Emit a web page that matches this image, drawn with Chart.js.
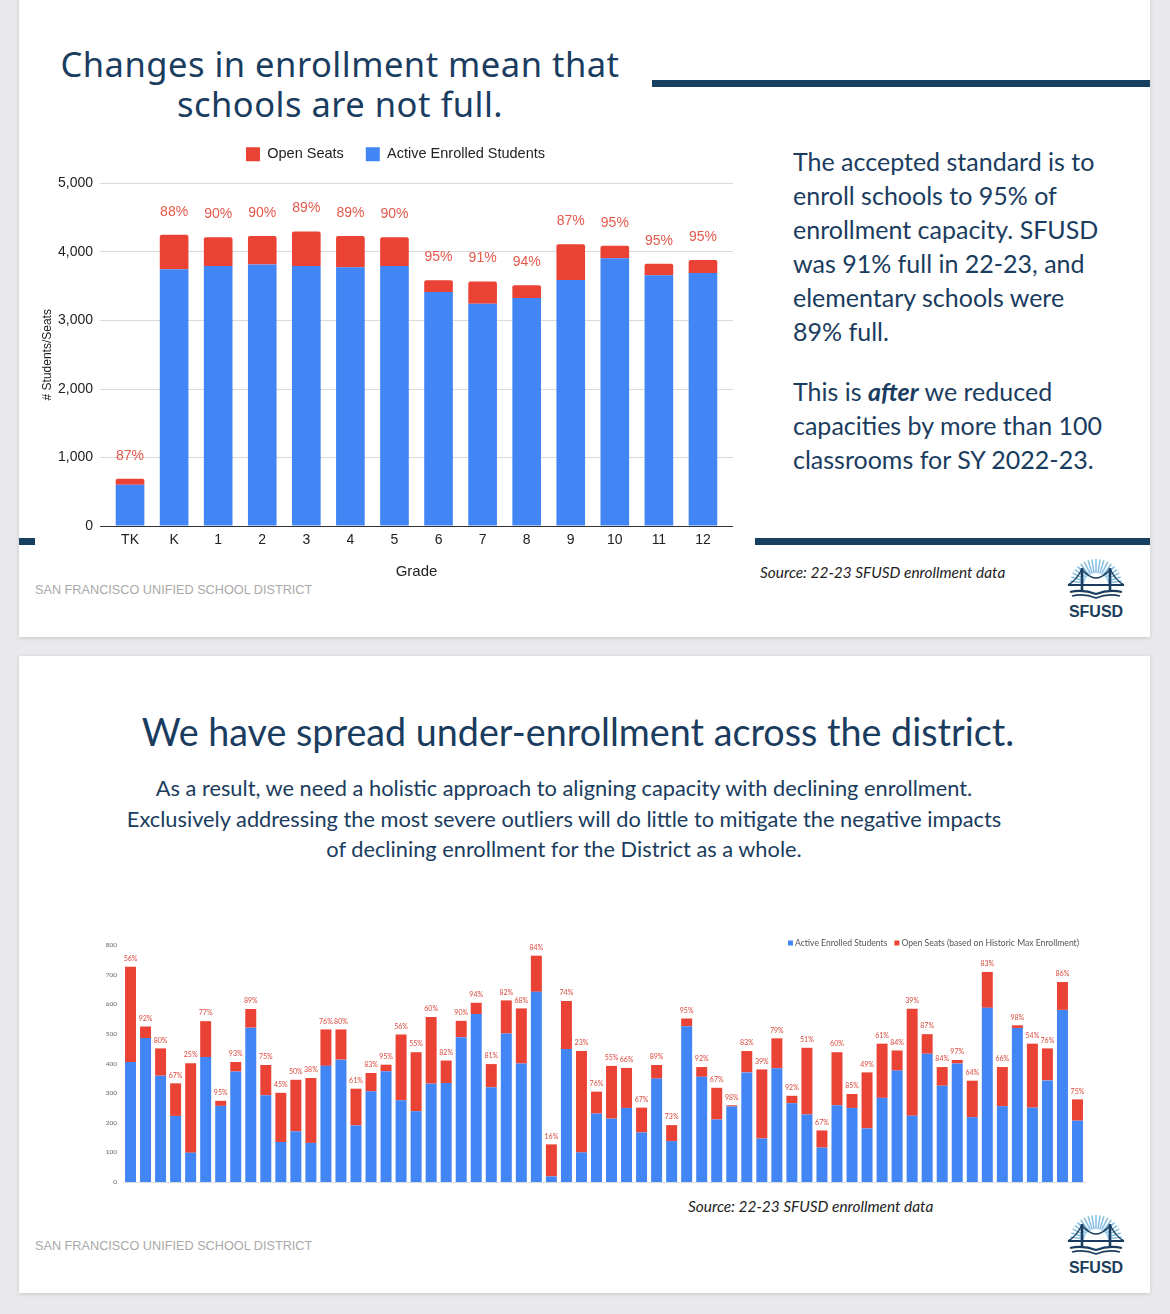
<!DOCTYPE html>
<html>
<head>
<meta charset="utf-8">
<script src="https://cdn.jsdelivr.net/npm/chart.js@4.4.1/dist/chart.umd.min.js"></script>
<style>
html, body { margin: 0; padding: 0; }
body { width: 1170px; height: 1314px; background: #e9e9ec; position: relative; overflow: hidden; font-family: Lato, sans-serif; color: #1a3c5e; }
.slide { position: absolute; left: 19px; width: 1131px; background: #fff; box-shadow: 0 1px 4px rgba(0,0,0,0.14); }
.abs { position: absolute; white-space: nowrap; }
.bar { position: absolute; background: #173f5f; }
.district { font-family: "Liberation Sans", Arial, sans-serif; font-size: 12.7px; color: #a9a9a9; line-height: 16px; }
.source { font-style: italic; font-size: 15.4px; color: #222; line-height: 20px; }
.side { font-size: 25px; line-height: 34px; left: 793px; }
</style>
</head>
<body>
<div class="slide" style="top:-3px;height:640px"></div>
<div class="slide" style="top:656px;height:637px"></div>

<!-- slide 1 -->
<div class="abs" style="left:40px;top:44px;width:600px;text-align:center;font-family:'Noto Sans',sans-serif;font-size:34.5px;line-height:40px;letter-spacing:0.5px">Changes in enrollment mean that<br>schools are not full.</div>
<div class="bar" style="left:652px;top:80px;width:498px;height:7px"></div>
<div class="bar" style="left:19px;top:538px;width:16px;height:7px"></div>
<div class="bar" style="left:755px;top:538px;width:395px;height:7px"></div>

<div class="abs side" style="top:144px">The accepted standard is to<br>enroll schools to 95% of<br>enrollment capacity. SFUSD<br>was 91% full in 22-23, and<br>elementary schools were<br>89% full.</div>
<div class="abs side" style="top:374px">This is <b><i>after</i></b> we reduced<br>capacities by more than 100<br>classrooms for SY 2022-23.</div>

<div class="abs source" style="left:760px;top:562px">Source: 22-23 SFUSD enrollment data</div>
<div class="abs district" style="left:35px;top:582px">SAN FRANCISCO UNIFIED SCHOOL DISTRICT</div>
<svg class="abs logo" style="left:1060px;top:555px" width="72" height="68"></svg>

<canvas id="gradeChart" class="abs" style="left:20px;top:125px" width="752" height="471"></canvas>

<!-- slide 2 -->
<div class="abs" style="left:0;top:708px;width:1156px;text-align:center;font-size:37.7px;line-height:48px">We have spread under-enrollment across the district.</div>
<div class="abs" style="left:0;top:773px;width:1128px;text-align:center;font-size:21.8px;line-height:30.5px">As a result, we need a holistic approach to aligning capacity with declining enrollment.<br>Exclusively addressing the most severe outliers will do little to mitigate the negative impacts<br>of declining enrollment for the District as a whole.</div>

<canvas id="schoolChart" class="abs" style="left:95px;top:925px" width="1000" height="270"></canvas>

<div class="abs source" style="left:688px;top:1196px">Source: 22-23 SFUSD enrollment data</div>
<div class="abs district" style="left:35px;top:1238px">SAN FRANCISCO UNIFIED SCHOOL DISTRICT</div>
<svg class="abs logo" style="left:1060px;top:1211px" width="72" height="68"></svg>

<script>
// slide 1: enrollment by grade
var grades = ['TK', 'K', '1', '2', '3', '4', '5', '6', '7', '8', '9', '10', '11', '12'];
var gradeEnrolled = [602, 3748, 3796, 3816, 3796, 3777, 3796, 3417, 3243, 3330, 3592, 3908, 3660, 3694];
var gradeOpen = [87, 504, 418, 417, 505, 456, 418, 170, 325, 185, 520, 184, 170, 189];
var gradePct = ['87%', '88%', '90%', '90%', '89%', '89%', '90%', '95%', '91%', '94%', '87%', '95%', '95%', '95%'];

// slide 2: enrollment by school
var schoolEnrolled = [405, 486, 359, 223, 99, 422, 257, 373, 521, 293, 135, 171, 132, 392, 413, 191,
    306, 374, 276, 239, 332, 334, 489, 567, 320, 501, 400, 642, 19, 449, 100, 231,
    214, 250, 167, 349, 138, 526, 355, 211, 255, 370, 147, 384, 266, 228, 116, 259,
    250, 181, 284, 376, 224, 433, 325, 400, 219, 588, 256, 520, 251, 343, 581, 207];
var schoolOpen = [322, 39, 92, 110, 302, 121, 17, 32, 63, 102, 166, 174, 219, 123, 102, 124,
    62, 22, 222, 199, 225, 76, 55, 38, 78, 112, 186, 122, 108, 162, 342, 74,
    178, 135, 84, 46, 54, 26, 33, 107, 4, 72, 233, 101, 25, 225, 58, 179,
    47, 189, 183, 68, 361, 66, 63, 12, 123, 121, 132, 9, 216, 108, 94, 72];
var schoolPct = ['56%', '92%', '80%', '67%', '25%', '77%', '95%', '93%', '89%', '75%', '45%', '50%', '38%', '76%', '80%', '61%',
    '83%', '95%', '56%', '55%', '60%', '82%', '90%', '94%', '81%', '82%', '68%', '84%', '16%', '74%', '23%', '76%',
    '55%', '66%', '67%', '89%', '73%', '95%', '92%', '67%', '98%', '83%', '39%', '79%', '92%', '51%', '67%', '60%',
    '85%', '49%', '61%', '84%', '39%', '87%', '84%', '97%', '64%', '83%', '66%', '98%', '54%', '76%', '86%', '75%'];
var schools = schoolEnrolled.map(function (v, i) { return 'School ' + (i + 1); });

var BLUE = '#4285f4';
var RED = '#ea4335';
Chart.defaults.font.family = '"Liberation Sans", Arial, sans-serif';
Chart.defaults.color = '#222';

// percent label above each stacked column
function pctLabels(labels, font, color, offset) {
    return {
        id: 'pctLabels',
        afterDatasetsDraw: function (chart) {
            var ctx = chart.ctx;
            var metas = chart.getSortedVisibleDatasetMetas();
            ctx.save();
            ctx.font = font;
            ctx.fillStyle = color;
            ctx.textAlign = 'center';
            ctx.textBaseline = 'middle';
            labels.forEach(function (txt, i) {
                var top = Math.min.apply(null, metas.map(function (m) { return m.data[i].y; }));
                ctx.fillText(txt, metas[0].data[i].x, top - offset);
            });
            ctx.restore();
        }
    };
}

// small legend in the top right corner of the plot (sheets style)
var cornerLegend = {
    id: 'cornerLegend',
    afterDraw: function (chart) {
        var ctx = chart.ctx, area = chart.chartArea;
        ctx.save();
        ctx.font = '8.6px Lato';
        ctx.textBaseline = 'middle';
        var x = area.right - 6, y = area.top - 2;
        chart.data.datasets.slice().reverse().forEach(function (ds) {
            x -= ctx.measureText(ds.label).width;
            ctx.fillStyle = '#555';
            ctx.fillText(ds.label, x, y);
            x -= 7;
            ctx.fillStyle = ds.backgroundColor;
            ctx.fillRect(x, y - 2.5, 5, 5);
            x -= 7;
        });
        ctx.restore();
    }
};

var gridColor = function (c) { return c.tick && c.tick.value === 0 ? '#333' : '#d9d9d9'; };

new Chart(document.getElementById('gradeChart'), {
    type: 'bar',
    data: {
        labels: grades,
        datasets: [{
            label: 'Active Enrolled Students',
            data: gradeEnrolled,
            backgroundColor: BLUE,
            borderWidth: 0
        }, {
            label: 'Open Seats',
            data: gradeOpen,
            backgroundColor: RED,
            borderWidth: 0,
            borderRadius: { topLeft: 2, topRight: 2 }
        }]
    },
    options: {
        responsive: false,
        animation: false,
        layout: { padding: { left: 38, right: 39, top: 0, bottom: 11 } },
        datasets: { bar: { barPercentage: 0.65, categoryPercentage: 1 } },
        plugins: {
            tooltip: { enabled: false },
            legend: {
                reverse: true,
                labels: { boxWidth: 14, boxHeight: 14, padding: 22, color: '#222', font: { size: 14.5 } }
            },
            // empty spacer box between legend and plot
            subtitle: { display: true, text: '', weight: 500, padding: 0, font: { size: 10 } }
        },
        scales: {
            x: {
                stacked: true,
                grid: { display: false, drawTicks: false },
                border: { display: false },
                ticks: { padding: 6, color: '#222', font: { size: 14 } },
                title: { display: true, text: 'Grade', color: '#222', font: { size: 15 } },
                afterFit: function (s) { s.height = 59; }
            },
            y: {
                stacked: true,
                min: 0,
                max: 5000,
                ticks: { stepSize: 1000, padding: 7, color: '#222', font: { size: 14 } },
                grid: { color: gridColor, drawTicks: true, tickLength: 8 },
                border: { display: false },
                title: { display: true, text: '# Students/Seats', color: '#222', font: { size: 12 }, padding: { top: -18, bottom: 4 } },
                afterFit: function (s) { s.width = 50; }
            },
            y2: {
                position: 'right',
                min: 0,
                max: 5000,
                ticks: { stepSize: 1000, display: false },
                grid: { color: gridColor, drawTicks: true, tickLength: 8 },
                border: { display: false },
                afterFit: function (s) { s.width = 8; }
            }
        }
    },
    plugins: [pctLabels(gradePct, '14px "Liberation Sans", Arial, sans-serif', '#e4594b', 23)]
});

new Chart(document.getElementById('schoolChart'), {
    type: 'bar',
    data: {
        labels: schools,
        datasets: [{
            label: 'Active Enrolled Students',
            data: schoolEnrolled,
            backgroundColor: BLUE,
            borderWidth: 0
        }, {
            label: 'Open Seats (based on Historic Max Enrollment)',
            data: schoolOpen,
            backgroundColor: RED,
            borderWidth: 0
        }]
    },
    options: {
        responsive: false,
        animation: false,
        layout: { padding: { left: 0, right: 10, top: 20, bottom: 13 } },
        datasets: { bar: { barPercentage: 0.73, categoryPercentage: 1 } },
        plugins: {
            tooltip: { enabled: false },
            legend: { display: false }
        },
        scales: {
            x: {
                stacked: true,
                grid: { display: false, drawTicks: false },
                border: { display: true, color: '#dcdcdc' },
                ticks: { display: false },
                afterFit: function (s) { s.height = 0; }
            },
            y: {
                stacked: true,
                min: 0,
                max: 800,
                ticks: { stepSize: 100, padding: 6, color: '#666', font: { family: 'Lato', size: 6.5 } },
                grid: { display: false, drawTicks: false },
                border: { display: false },
                afterFit: function (s) { s.width = 28; }
            }
        }
    },
    plugins: [pctLabels(schoolPct, '7px Lato', '#d9493e', 8), cornerLegend]
});

// SFUSD logo: sun rays, bridge, open book
document.querySelectorAll('svg.logo').forEach(function (svg) {
    var html = '';
    for (var a = 180; a <= 360; a += 9) {
        var r = a * Math.PI / 180;
        html += '<line x1="' + (36 + 12 * Math.cos(r)).toFixed(1) + '" y1="' + (30 + 12 * Math.sin(r)).toFixed(1) +
            '" x2="' + (36 + 26 * Math.cos(r)).toFixed(1) + '" y2="' + (30 + 26 * Math.sin(r)).toFixed(1) +
            '" stroke="#86bfe3" stroke-width="1.5"/>';
    }
    html += '<g fill="none" stroke="#1a3c5e" stroke-width="2">' +
        '<path d="M22 13 V35 M50 13 V35" stroke-width="2.6"/>' +
        '<path d="M8 30 H64"/>' +
        '<path d="M8 30 Q16 26 22 14 Q36 32 50 14 Q56 26 64 30" stroke-width="1.4"/>' +
        '<path d="M10 37 Q23 34 36 39 Q49 34 62 37"/>' +
        '<path d="M12 41 Q24 38 36 43 Q48 38 60 41" stroke-width="1.6"/>' +
        '</g>' +
        '<text x="36" y="58" text-anchor="middle" dominant-baseline="middle" font-family="Liberation Sans, Arial, sans-serif" font-weight="bold" font-size="16" fill="#1a3c5e">SFUSD</text>';
    svg.innerHTML = html;
});
</script>
</body>
</html>
